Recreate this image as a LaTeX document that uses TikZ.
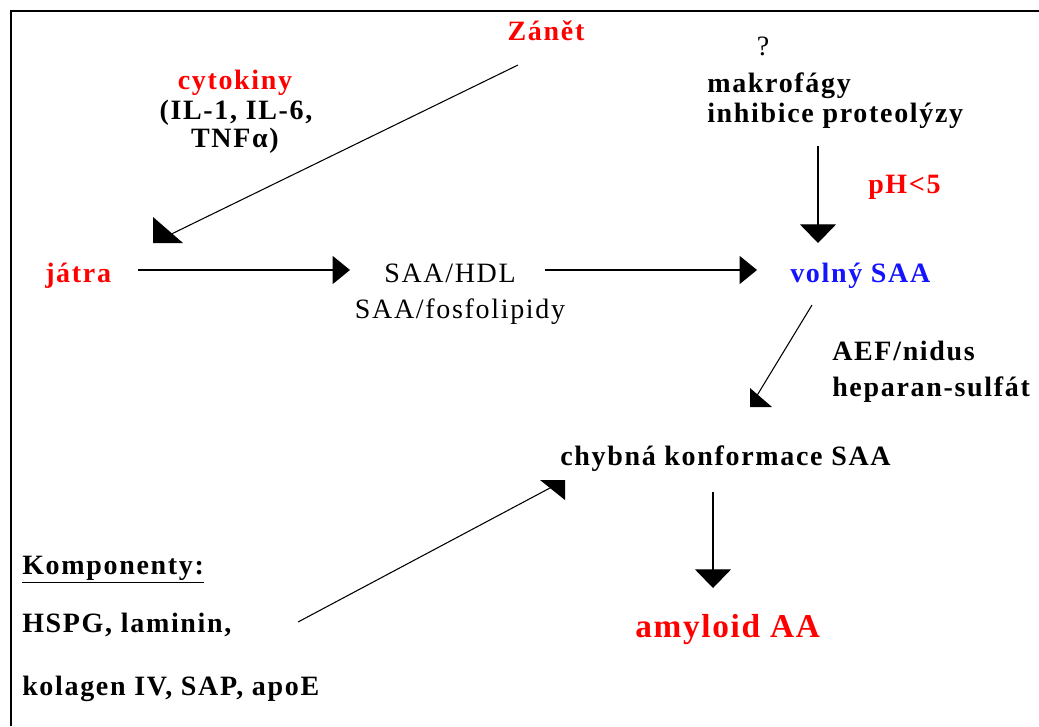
\documentclass[tikz,border=0pt]{standalone}
\usepackage{fontspec}
\setmainfont{Liberation Serif}
\newfontfamily\bfnt{Liberation Serif}[LetterSpace=6]
\newfontfamily\rgnt{Liberation Serif}[LetterSpace=6]
\newfontfamily\bignt{Liberation Serif}[LetterSpace=5]
\usetikzlibrary{arrows.meta,calc}
\definecolor{tred}{RGB}{255,0,0}
\definecolor{tblue}{RGB}{20,20,255}
\tikzset{
  lbl/.style={inner sep=0pt, anchor=base, font=\fontsize{21}{25}\selectfont\bfnt\bfseries},
  lblw/.style={lbl, anchor=base west},
  reg/.style={inner sep=0pt, anchor=base, font=\fontsize{21}{25}\selectfont\rgnt},
  big/.style={inner sep=0pt, anchor=base west, font=\fontsize{25}{30}\selectfont\bignt\bfseries},
  conn/.style={line width=0.8pt},
  harr/.style={conn, -{Triangle[length=13pt, width=21pt]}},
  varr/.style={conn, -{Triangle[length=14pt, width=27pt]}},
}
\begin{document}
\begin{tikzpicture}[x=0.75pt, y=-0.75pt]
\useasboundingbox (0,0) rectangle (1039,726);
% frame
\draw[line width=2.2pt] (11,726) -- (11,11) -- (1039,11);

% texts
\node[lbl, text=tred] (zanet) at (546,40) {Zánět};
\node[lbl, text=tred] (cyto) at (235,89) {cytokiny};
\node[lbl] (il) at (236,119) {(IL-1, IL-6,};
\node[lbl] (tnf) at (235,147) {TNFα)};
\node[reg] (q) at (763,55) {?};
\node[lblw] (makro) at (707,92) {makrofágy};
\node[lblw] (inhib) at (707,122) {inhibice proteolýzy};
\node[lblw, text=tred] (ph) at (868,193) {pH<5};
\node[lblw, text=tred] (jatra) at (45,282) {játra};
\node[reg] (hdl) at (450,282) {SAA/HDL};
\node[reg] (fosfo) at (460,318) {SAA/fosfolipidy};
\node[lblw, text=tblue] (volny) at (790,282) {volný SAA};
\node[lblw] (aef) at (832,360) {AEF/nidus};
\node[lblw] (hep) at (832,396) {heparan-sulfát};
\node[lblw] (chyb) at (560,465) {chybná konformace SAA};
\node[lblw] (komp) at (22,574) {\underline{Komponenty:}};
\node[lblw] (hspg) at (22,632) {HSPG, laminin,};
\node[lblw] (kolag) at (22,695) {kolagen IV, SAP, apoE};
\node[big, text=tred] (amyl) at (635,637) {amyloid AA};

% connector end points
\coordinate (a1s) at (518,65);
\coordinate (a1t) at (153,243);
\coordinate (a2s) at (138,270);
\coordinate (a2t) at (350,270);
\coordinate (a3s) at (545,270);
\coordinate (a3t) at (757,270);
\coordinate (a4s) at (818,146);
\coordinate (a4t) at (818,243);
\coordinate (a5s) at (812,305);
\coordinate (a5t) at (750,407);
\coordinate (a6s) at (298,622);
\coordinate (a6t) at (565,480);
\coordinate (a7s) at (713,492);
\coordinate (a7t) at (713,588);

% Zánět -> játra
\draw[conn] (a1s) -- ($(a1t)!0.04!(a1s)$);
\fill (a1t) -- ++(0,-26) -- ++(30,26) -- cycle;
% játra -> SAA/HDL
\draw[harr] (a2s) -- (a2t);
% SAA/HDL -> volný SAA
\draw[harr] (a3s) -- (a3t);
% makrofágy -> volný SAA
\draw[varr] (a4s) -- (a4t);
% volný SAA -> chybná konformace
\draw[conn] (a5s) -- ($(a5t)!0.1!(a5s)$);
\fill (a5t) -- ++(0,-19) -- ++(22,19) -- cycle;
% Komponenty -> chybná konformace
\draw[conn] (a6s) -- ($(a6t)!0.05!(a6s)$);
\fill (a6t) -- ++(-25,0) -- ++(25,20) -- cycle;
% chybná -> amyloid
\draw[varr] (a7s) -- (a7t);
\end{tikzpicture}
\end{document}
